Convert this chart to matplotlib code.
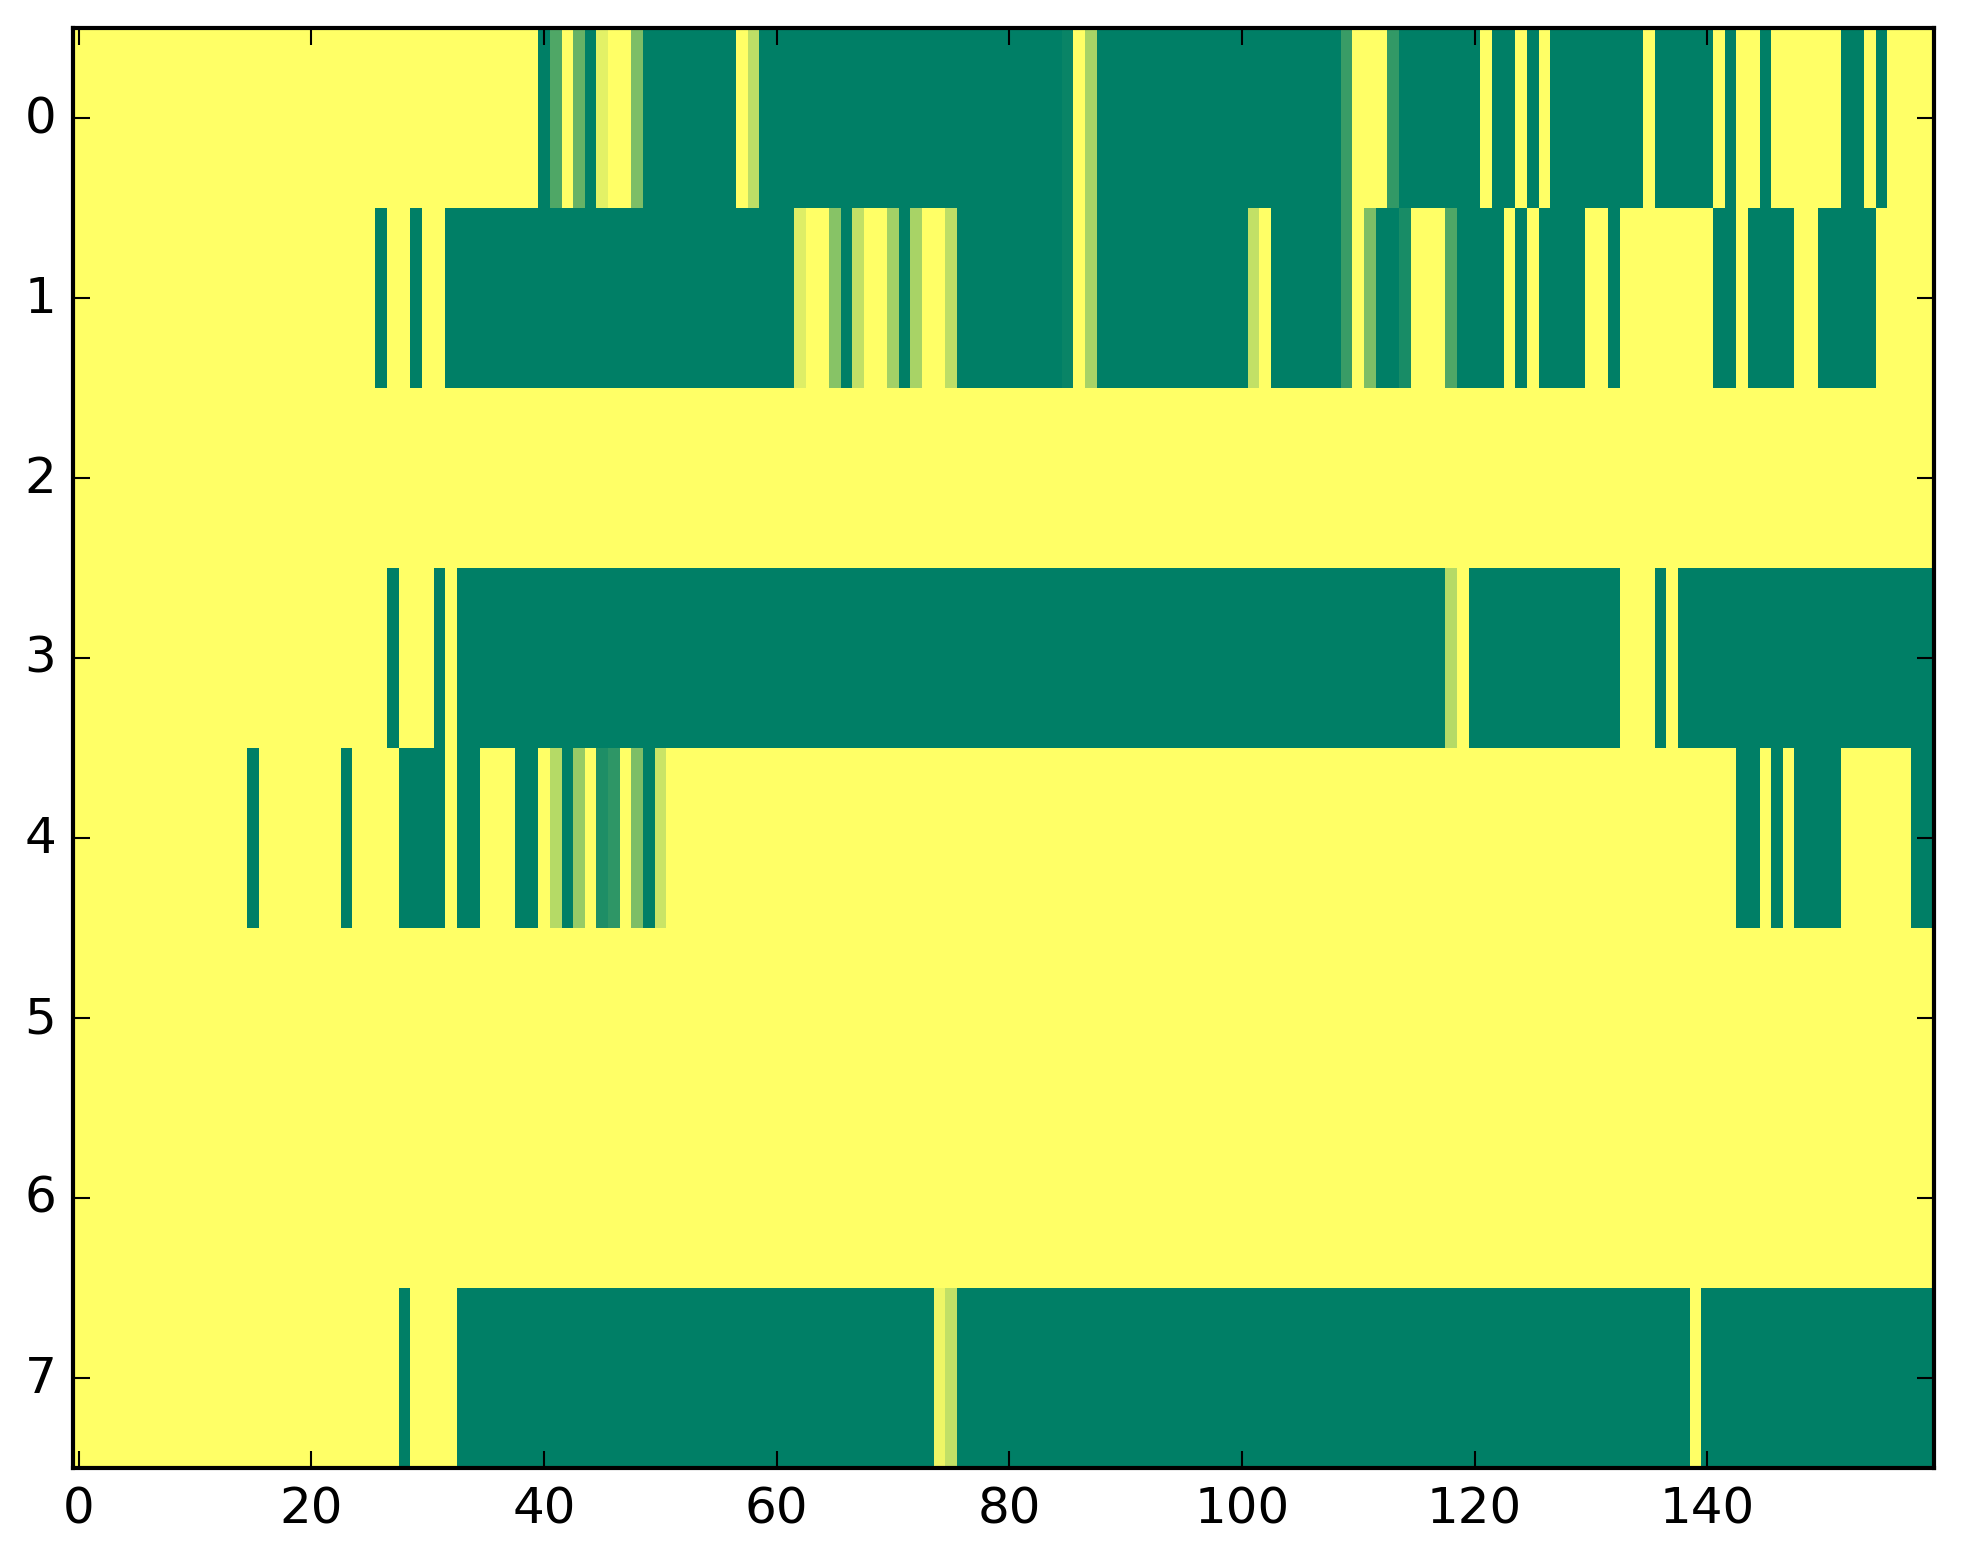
import numpy as np
import matplotlib
matplotlib.use('Agg')
import matplotlib.pyplot as plt

# 各行の値（0=黄色, 1=濃い緑）
row0 = [0, 0, 0, 0, 0, 0, 0, 0, 0, 0, 0, 0, 0, 0, 0, 0, 0, 0, 0, 0,
        0, 0, 0, 0, 0, 0, 0, 0, 0, 0, 0, 0, 0, 0, 0, 0, 0, 0, 0, 0,
        1, .69, 0, .6, 1, .11, 0, 0, .51, 1, 1, 1, 1, 1, 1, 1, 1, 0, .26, 1,
        1, 1, 1, 1, 1, 1, 1, 1, 1, 1, 1, 1, 1, 1, 1, 1, 1, 1, 1, 1,
        1, 1, 1, 1, 1, .96, 0, .34, 1, 1, 1, 1, 1, 1, 1, 1, 1, 1, 1, 1,
        1, 1, 1, 1, 1, 1, 1, 1, 1, .77, 0, 0, 0, .8, 1, 1, 1, 1, 1, 1,
        1, 0, 1, 1, 0, 1, 0, 1, 1, 1, 1, 1, 1, 1, 1, 0, 1, 1, 1, 1,
        1, 0, 1, 0, 0, 1, 0, 0, 0, 0, 0, 0, 1, 1, 0, 1, 0, 0, 0, 0]

row1 = [0, 0, 0, 0, 0, 0, 0, 0, 0, 0, 0, 0, 0, 0, 0, 0, 0, 0, 0, 0,
        0, 0, 0, 0, 0, 0, 1, 0, 0, 1, 0, 0, 1, 1, 1, 1, 1, 1, 1, 1,
        1, 1, 1, 1, 1, 1, 1, 1, 1, 1, 1, 1, 1, 1, 1, 1, 1, 1, 1, 1,
        1, 1, .13, 0, 0, .47, 1, .24, 0, 0, .36, 1, .34, 0, 0, .26, 1, 1, 1, 1,
        1, 1, 1, 1, 1, .96, 0, .34, 1, 1, 1, 1, 1, 1, 1, 1, 1, 1, 1, 1,
        1, .24, 0, 1, 1, 1, 1, 1, 1, .77, 0, .51, 1, 1, .9, 0, 0, 0, .69, 1,
        1, 1, 1, 0, 1, 0, 1, 1, 1, 1, 0, 0, 1, 0, 0, 0, 0, 0, 0, 0,
        0, 1, 1, 0, 1, 1, 1, 1, 0, 0, 1, 1, 1, 1, 1, 0, 0, 0, 0, 0]

row2 = [0] * 160

row3 = [0, 0, 0, 0, 0, 0, 0, 0, 0, 0, 0, 0, 0, 0, 0, 0, 0, 0, 0, 0,
        0, 0, 0, 0, 0, 0, 0, 1, 0, 0, 0, 1, 0, 1, 1, 1, 1, 1, 1, 1,
        1, 1, 1, 1, 1, 1, 1, 1, 1, 1, 1, 1, 1, 1, 1, 1, 1, 1, 1, 1,
        1, 1, 1, 1, 1, 1, 1, 1, 1, 1, 1, 1, 1, 1, 1, 1, 1, 1, 1, 1,
        1, 1, 1, 1, 1, 1, 1, 1, 1, 1, 1, 1, 1, 1, 1, 1, 1, 1, 1, 1,
        1, 1, 1, 1, 1, 1, 1, 1, 1, 1, 1, 1, 1, 1, 1, 1, 1, 1, .29, 0,
        1, 1, 1, 1, 1, 1, 1, 1, 1, 1, 1, 1, 1, 0, 0, 0, 1, 0, 1, 1,
        1, 1, 1, 1, 1, 1, 1, 1, 1, 1, 1, 1, 1, 1, 1, 1, 1, 1, 1, 1]

row4 = [0, 0, 0, 0, 0, 0, 0, 0, 0, 0, 0, 0, 0, 0, 0, 1, 0, 0, 0, 0,
        0, 0, 0, 1, 0, 0, 0, 0, 1, 1, 1, 1, 0, 1, 1, 0, 0, 0, 1, 1,
        0, .29, 1, .41, 0, .88, .82, 0, .51, 1, .21, 0, 0, 0, 0, 0, 0, 0, 0, 0,
        0, 0, 0, 0, 0, 0, 0, 0, 0, 0, 0, 0, 0, 0, 0, 0, 0, 0, 0, 0,
        0, 0, 0, 0, 0, 0, 0, 0, 0, 0, 0, 0, 0, 0, 0, 0, 0, 0, 0, 0,
        0, 0, 0, 0, 0, 0, 0, 0, 0, 0, 0, 0, 0, 0, 0, 0, 0, 0, 0, 0,
        0, 0, 0, 0, 0, 0, 0, 0, 0, 0, 0, 0, 0, 0, 0, 0, 0, 0, 0, 0,
        0, 0, 0, 1, 1, 0, 1, 0, 1, 1, 1, 1, 0, 0, 0, 0, 0, 0, 1, 1]

row5 = [0] * 160
row6 = [0] * 160

row7 = [0, 0, 0, 0, 0, 0, 0, 0, 0, 0, 0, 0, 0, 0, 0, 0, 0, 0, 0, 0,
        0, 0, 0, 0, 0, 0, 0, 0, 1, 0, 0, 0, 0, 1, 1, 1, 1, 1, 1, 1,
        1, 1, 1, 1, 1, 1, 1, 1, 1, 1, 1, 1, 1, 1, 1, 1, 1, 1, 1, 1,
        1, 1, 1, 1, 1, 1, 1, 1, 1, 1, 1, 1, 1, 1, .07, .24, 1, 1, 1, 1,
        1, 1, 1, 1, 1, 1, 1, 1, 1, 1, 1, 1, 1, 1, 1, 1, 1, 1, 1, 1,
        1, 1, 1, 1, 1, 1, 1, 1, 1, 1, 1, 1, 1, 1, 1, 1, 1, 1, 1, 1,
        1, 1, 1, 1, 1, 1, 1, 1, 1, 1, 1, 1, 1, 1, 1, 1, 1, 1, 1, 0,
        1, 1, 1, 1, 1, 1, 1, 1, 1, 1, 1, 1, 1, 1, 1, 1, 1, 1, 1, 1]

rows = np.array([row0, row1, row2, row3, row4, row5, row6, row7], dtype=float)

plt.style.use('classic')
fig = plt.figure(figsize=(1963 / 300, 1564 / 300), dpi=300)
ax = fig.add_axes([73 / 1963, 95 / 1564, 1861 / 1963, 1440 / 1564])
ax.imshow(rows, cmap='summer_r', aspect='auto', interpolation='nearest', vmin=0, vmax=1)

fig.savefig('out.png', dpi=300)
